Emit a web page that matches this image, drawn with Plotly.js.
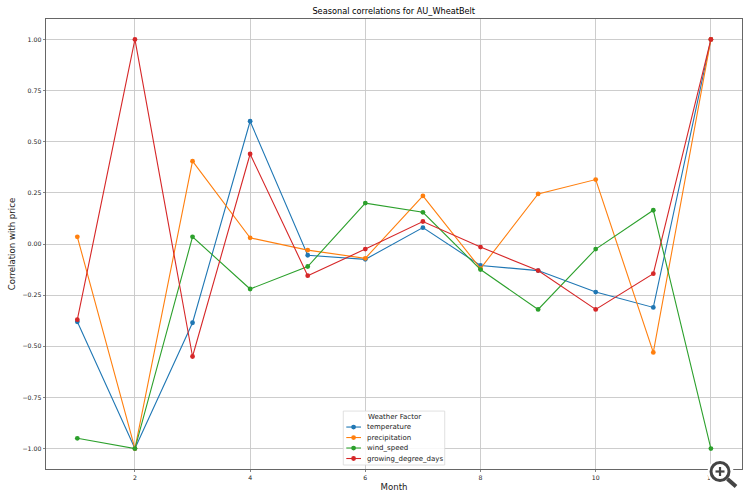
<!DOCTYPE html>
<html><head><meta charset="utf-8">
<script src="https://cdn.plot.ly/plotly-3.0.1.min.js"></script>
<style>html,body{margin:0;padding:0;background:#fff}</style></head>
<body><div id="chart" style="width:750px;height:500px"></div>
<script>
const months = [1,2,3,4,5,6,7,8,9,10,11,12];
const temperature = [-0.38,-1,-0.385,0.60,-0.055,-0.075,0.08,-0.105,-0.13,-0.235,-0.31,1];
const precipitation = [0.035,-1,0.405,0.03,-0.03,-0.07,0.235,-0.12,0.245,0.315,-0.53,1];
const wind_speed = [-0.95,-1,0.035,-0.22,-0.11,0.2,0.155,-0.125,-0.32,-0.025,0.165,-1];
const growing_degree_days = [-0.37,1,-0.55,0.44,-0.155,-0.025,0.11,-0.015,-0.13,-0.32,-0.145,1];
const seriesNames = ['temperature','precipitation','wind_speed','growing_degree_days'];
const seriesValues = [temperature,precipitation,wind_speed,growing_degree_days];
const seriesColors = ['#1f77b4','#ff7f0e','#2ca02c','#d62728'];
const yTicks = [-1,-0.75,-0.5,-0.25,0,0.25,0.5,0.75,1];
const yTickLabels = ['−1.00','−0.75','−0.50','−0.25','0.00','0.25','0.50','0.75','1.00'];
const xTicks = [2,4,6,8,10,12];
const font = 'DejaVu Sans, sans-serif';
const traces = seriesNames.map((n,i)=>({
  x: months, y: seriesValues[i], name: n, type:'scatter', mode:'lines+markers', showlegend:false,
  line:{color:seriesColors[i],width:1.1}, marker:{color:seriesColors[i],size:4.8}
}));
const W=750,H=500,L=45.5,R=742,T=18.5,B=469;
const px = v => (v-L)/(R-L), py = v => (B-v)/(B-T);
const rect = (x0,y0,x1,y1,extra) => Object.assign({type:'rect',xref:'paper',yref:'paper',x0:px(x0),x1:px(x1),y0:py(y0),y1:py(y1),layer:'above'},extra);
const circ = (cx,cy,r,extra) => Object.assign({type:'circle',xref:'paper',yref:'paper',x0:px(cx-r),x1:px(cx+r),y0:py(cy-r),y1:py(cy+r),layer:'above'},extra);
const seg = (x0,y0,x1,y1,color,width) => ({type:'line',xref:'paper',yref:'paper',x0:px(x0),x1:px(x1),y0:py(y0),y1:py(y1),layer:'above',line:{color,width}});
const rowY = [427,437.5,448,458.5];
const shapes = [rect(343,411,444.5,465,{fillcolor:'rgba(255,255,255,0.85)',line:{color:'#d8d8d8',width:0.8}})];
const annotations = [{xref:'paper',yref:'paper',x:px(394),y:py(416.7),text:'Weather Factor',showarrow:false,xanchor:'center',yanchor:'middle',font:{family:font,size:7,color:'#222'}}];
seriesNames.forEach((n,i)=>{
  shapes.push(seg(346,rowY[i],360.7,rowY[i],seriesColors[i],1.1));
  shapes.push(circ(353.3,rowY[i],2.4,{fillcolor:seriesColors[i],line:{width:0}}));
  annotations.push({xref:'paper',yref:'paper',x:px(366),y:py(rowY[i]),text:n,showarrow:false,xanchor:'left',yanchor:'middle',xshift:-1,font:{family:font,size:7,color:'#222'}});
});
// magnifier badge over the lower right corner
shapes.push(circ(720.5,472,13,{fillcolor:'#fff',line:{width:0}}));
shapes.push(seg(727.5,479,736,486.5,'#444',4));
shapes.push(circ(720,471.5,9,{fillcolor:'#fff',line:{color:'#444',width:3}}));
shapes.push(seg(715.5,471.5,724.5,471.5,'#444',2.2));
shapes.push(seg(720,467,720,476,'#444',2.2));
const axisCommon = {tickmode:'array',ticks:'outside',ticklen:2.5,tickwidth:0.6,tickcolor:'#333',
  showgrid:true,gridcolor:'#c8c8c8',gridwidth:0.9,zeroline:false,showline:true,linecolor:'#555',linewidth:0.9,mirror:true,
  tickfont:{family:font,size:6.2,color:'#222'}};
const layout = {
  width:W,height:H,paper_bgcolor:'#fff',plot_bgcolor:'#fff',
  margin:{l:L,r:W-R,t:T,b:H-B,pad:0,autoexpand:false},
  title:{text:'Seasonal correlations for AU_WheatBelt',font:{family:font,size:8.2,color:'#000'},x:(L+R)/2/W,xanchor:'center',y:1-11/H,yanchor:'middle'},
  xaxis:Object.assign({},axisCommon,{range:[0.456,12.54],tickvals:xTicks,title:{text:'Month',font:{family:font,size:8.6,color:'#222'},standoff:4}}),
  yaxis:Object.assign({},axisCommon,{range:[-1.1,1.1],tickvals:yTicks,ticktext:yTickLabels,title:{text:'Correlation with price',font:{family:font,size:8.6,color:'#222'},standoff:5}}),
  showlegend:false, shapes, annotations
};
Plotly.newPlot('chart',traces,layout,{displayModeBar:false,staticPlot:true});
</script></body></html>
